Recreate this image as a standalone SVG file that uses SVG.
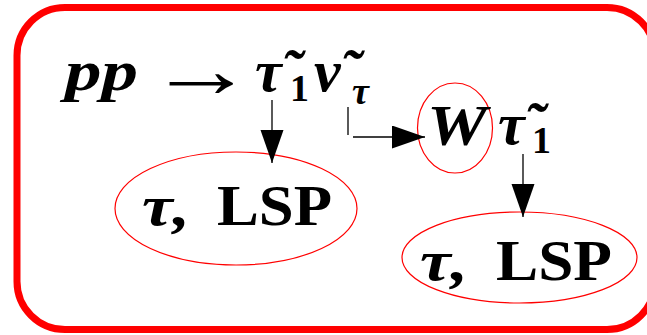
<svg xmlns="http://www.w3.org/2000/svg" width="647" height="335" viewBox="0 0 647 335">
<style>
text{fill:#000;font-family:"Liberation Serif","DejaVu Serif",serif;font-weight:bold}
.i{font-style:italic}
.up{font-style:normal}
.ell{fill:none;stroke:#ff0000;stroke-width:1.2}
.con{stroke:#000;stroke-width:1.3;fill:none}
</style>
<defs>
<marker id="ah" markerUnits="userSpaceOnUse" markerWidth="34" markerHeight="24" refX="33" refY="11.5" orient="auto">
<path d="M0,0 L33,11.5 L0,23 z" fill="#000"/>
</marker>
</defs>
<rect id="frame" x="17" y="7.5" width="638" height="322" rx="48" ry="48" fill="#fff" stroke="#ff0000" stroke-width="7"/>
<g id="reaction">
<text class="i" x="65" y="90" font-size="56" textLength="73" lengthAdjust="spacingAndGlyphs">pp</text>
<text x="148" y="97" font-size="80" font-weight="normal" textLength="107" lengthAdjust="spacingAndGlyphs">→</text>
<text class="i" x="255" y="91" font-size="60">τ̃<tspan class="up" x="290" y="101" font-size="38">1</tspan></text>
<text class="i" x="314" y="91" font-size="60">ν̃<tspan x="352" y="104" font-size="38">τ</tspan></text>
</g>
<g id="decay-w">
<ellipse class="ell" cx="455" cy="128" rx="37.5" ry="45"/>
<text class="i" x="427" y="145" font-size="56" textLength="60" lengthAdjust="spacingAndGlyphs">W</text>
<text class="i" x="498" y="144" font-size="60">τ̃<tspan class="up" x="532" y="153" font-size="38">1</tspan></text>
</g>
<g id="lsp1">
<ellipse class="ell" cx="236" cy="208.5" rx="121" ry="56.5"/>
<text class="i" x="142" y="225" font-size="56" textLength="48" lengthAdjust="spacingAndGlyphs">τ,</text>
<text x="217" y="225" font-size="56" textLength="115" lengthAdjust="spacingAndGlyphs">LSP</text>
</g>
<g id="lsp2">
<ellipse class="ell" cx="519.5" cy="257.5" rx="117.5" ry="45.5"/>
<text class="i" x="420" y="280" font-size="56" textLength="48" lengthAdjust="spacingAndGlyphs">τ,</text>
<text x="496" y="280" font-size="56" textLength="116" lengthAdjust="spacingAndGlyphs">LSP</text>
</g>
<g id="connectors">
<line class="con" x1="272" y1="100" x2="272" y2="163" marker-end="url(#ah)"/>
<line class="con" x1="348" y1="107" x2="348" y2="135"/>
<line class="con" x1="353" y1="137" x2="425" y2="137" marker-end="url(#ah)"/>
<line class="con" x1="523" y1="154" x2="523" y2="217" marker-end="url(#ah)"/>
</g>
</svg>
